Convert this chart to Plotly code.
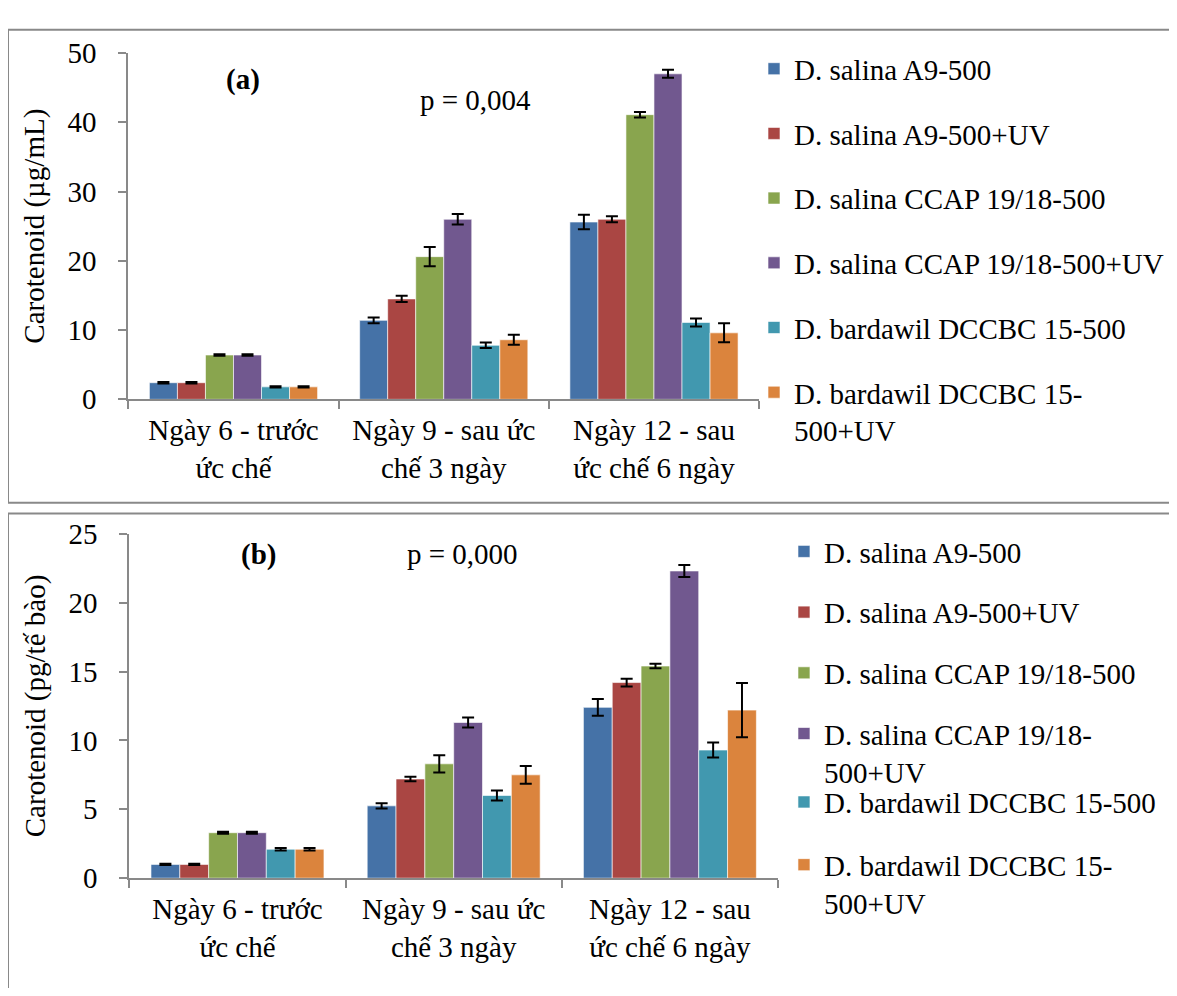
import plotly.graph_objects as go

categories = ["Ngày 6 - trước<br>ức chế", "Ngày 9 - sau ức<br>chế 3 ngày", "Ngày 12 - sau<br>ức chế 6 ngày"]

series_names_a = ["D. salina A9-500", "D. salina A9-500+UV", "D. salina CCAP 19/18-500",
                  "D. salina CCAP 19/18-500+UV", "D. bardawil DCCBC 15-500", "D. bardawil DCCBC 15-<br>500+UV"]
series_names_b = ["D. salina A9-500", "D. salina A9-500+UV", "D. salina CCAP 19/18-500",
                  "D. salina CCAP 19/18-<br>500+UV", "D. bardawil DCCBC 15-500", "D. bardawil DCCBC 15-<br>500+UV"]

colors = ["#4572A7", "#AA4643", "#89A54E", "#71588F", "#4198AF", "#DB843D"]

# Panel (a): Carotenoid (µg/mL)
a_a9 = [2.4, 11.4, 25.6]
a_a9_uv = [2.4, 14.5, 26.0]
a_ccap = [6.4, 20.6, 41.1]
a_ccap_uv = [6.4, 26.0, 47.0]
a_dccbc = [1.8, 7.8, 11.1]
a_dccbc_uv = [1.8, 8.6, 9.6]
a_err = [[0.12, 0.4, 1.05], [0.12, 0.45, 0.45], [0.12, 1.4, 0.4],
         [0.12, 0.75, 0.58], [0.08, 0.4, 0.58], [0.08, 0.72, 1.37]]

# Panel (b): Carotenoid (pg/tế bào)
b_a9 = [1.0, 5.25, 12.4]
b_a9_uv = [1.0, 7.2, 14.2]
b_ccap = [3.3, 8.3, 15.4]
b_ccap_uv = [3.3, 11.3, 22.3]
b_dccbc = [2.1, 6.0, 9.3]
b_dccbc_uv = [2.1, 7.5, 12.2]
b_err = [[0.05, 0.19, 0.61], [0.05, 0.17, 0.28], [0.07, 0.63, 0.16],
         [0.07, 0.37, 0.44], [0.09, 0.37, 0.54], [0.09, 0.64, 1.97]]

vals_a = [a_a9, a_a9_uv, a_ccap, a_ccap_uv, a_dccbc, a_dccbc_uv]
vals_b = [b_a9, b_a9_uv, b_ccap, b_ccap_uv, b_dccbc, b_dccbc_uv]

# page body has an 8px default margin on every side: fit the figure inside the window
OFF = 8
W, H = 1177 - 2 * OFF, 996 - 2 * OFF
FONT = "Liberation Serif"
FS = 29
GRAY = "#898989"

fig = go.Figure()

for i in range(6):
    fig.add_trace(go.Bar(
        x=categories, y=vals_a[i], name=series_names_a[i],
        marker=dict(color=colors[i], line=dict(color="rgba(255,255,255,0.6)", width=1)),
        error_y=dict(type="data", array=a_err[i], color="black", thickness=2, width=6),
        xaxis="x", yaxis="y", legend="legend", legendgroup="a%d" % i,
    ))
for i in range(6):
    fig.add_trace(go.Bar(
        x=categories, y=vals_b[i], name=series_names_b[i],
        marker=dict(color=colors[i], line=dict(color="rgba(255,255,255,0.6)", width=1)),
        error_y=dict(type="data", array=b_err[i], color="black", thickness=2, width=6),
        xaxis="x2", yaxis="y2", legend="legend2" if i < 4 else "legend3",
        legendgroup="b%d" % i,
    ))

def px_x(p):
    return (p - OFF) / W

def px_y(p):
    return 1 - (p - OFF) / H

axis_common = dict(
    showline=True, linecolor=GRAY, linewidth=2, ticks="outside", tickcolor=GRAY,
    ticklen=8, tickwidth=2, showgrid=False, zeroline=False,
    tickfont=dict(family=FONT, size=FS, color="black"),
)

leg_common = dict(xanchor="left", yanchor="top", font=dict(family=FONT, size=FS),
                  valign="top", bgcolor="rgba(0,0,0,0)")

fig.update_layout(
    width=W, height=H,
    margin=dict(l=0, r=0, t=0, b=0),
    paper_bgcolor="white", plot_bgcolor="white",
    font=dict(family=FONT, size=FS, color="black"),
    barmode="group", bargap=0.2, bargroupgap=0,
    xaxis=dict(domain=[px_x(129), px_x(763)], anchor="y", tickson="boundaries",
               ticklabelstandoff=4, **axis_common),
    yaxis=dict(domain=[px_y(396), px_y(38)], anchor="x", range=[0, 50], dtick=10,
               ticklabelstandoff=16,
               title=dict(text="Carotenoid (µg/mL)", font=dict(family=FONT, size=FS), standoff=14),
               **axis_common),
    xaxis2=dict(domain=[px_x(130), px_x(782)], anchor="y2", tickson="boundaries",
                ticklabelstandoff=4, **axis_common),
    yaxis2=dict(domain=[px_y(891), px_y(535)], anchor="x2", range=[0, 25], dtick=5,
                ticklabelstandoff=16,
                title=dict(text="Carotenoid (pg/tế bào)", font=dict(family=FONT, size=FS), standoff=14),
                **axis_common),
    legend=dict(x=px_x(758), y=px_y(28), tracegroupgap=24, **leg_common),
    legend2=dict(x=px_x(788), y=px_y(527), tracegroupgap=20, **leg_common),
    legend3=dict(x=px_x(788), y=px_y(786), tracegroupgap=22, **leg_common),
    shapes=[
        dict(type="rect", xref="paper", yref="paper", x0=px_x(8), x1=1.02,
             y0=px_y(503), y1=px_y(14), line=dict(color=GRAY, width=2)),
        dict(type="rect", xref="paper", yref="paper", x0=px_x(8), x1=1.02,
             y0=-0.02, y1=px_y(514), line=dict(color=GRAY, width=2)),
    ],
    annotations=[
        dict(text="<b>(a)</b>", x=px_x(225), y=px_y(46), xref="paper", yref="paper",
             showarrow=False, font=dict(family=FONT, size=FS)),
        dict(text="p = 0,004", x=px_x(478), y=px_y(68), xref="paper", yref="paper",
             showarrow=False, font=dict(family=FONT, size=FS)),
        dict(text="<b>(b)</b>", x=px_x(240), y=px_y(556), xref="paper", yref="paper",
             showarrow=False, font=dict(family=FONT, size=FS)),
        dict(text="p = 0,000", x=px_x(465), y=px_y(556), xref="paper", yref="paper",
             showarrow=False, font=dict(family=FONT, size=FS)),
    ],
)

fig.write_html("out.html")
